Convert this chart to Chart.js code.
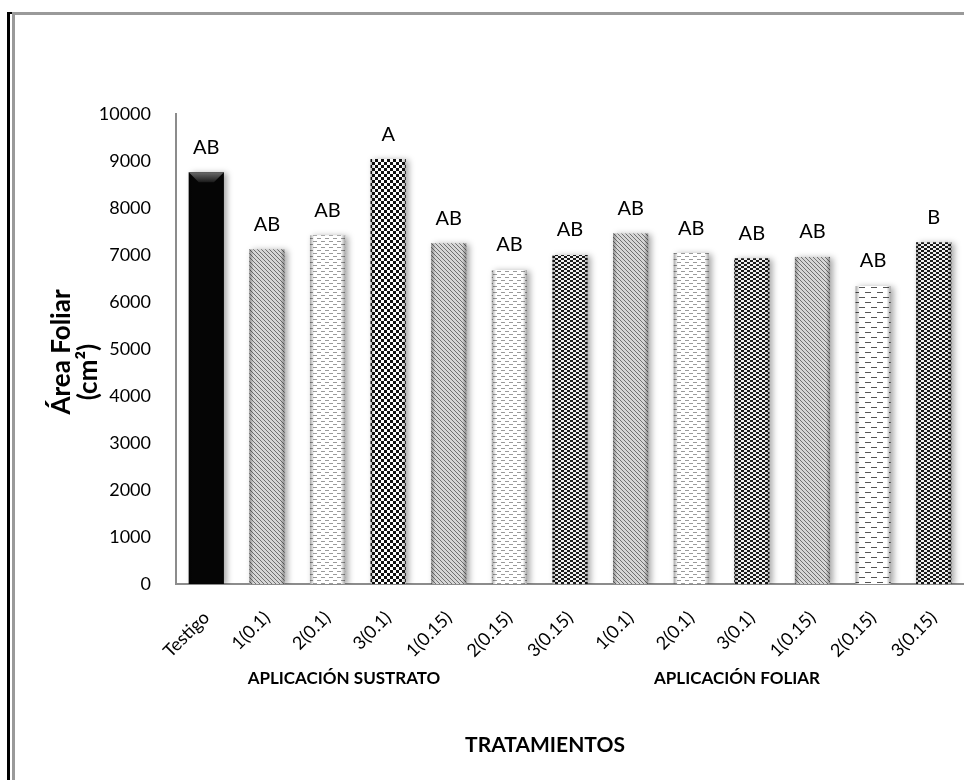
<!DOCTYPE html>
<html>
<head>
<meta charset="utf-8">
<script src="https://cdn.jsdelivr.net/npm/chart.js@4.4.0/dist/chart.umd.min.js"></script>
<style>
  html, body { margin: 0; padding: 0; background: #fff; }
  #wrap { width: 964px; height: 780px; }
</style>
</head>
<body>
<div id="wrap"><canvas id="areaChart"></canvas></div>
<script>
// Data
const categories = ['Testigo', '1(0.1)', '2(0.1)', '3(0.1)', '1(0.15)', '2(0.15)', '3(0.15)',
                    '1(0.1)', '2(0.1)', '3(0.1)', '1(0.15)', '2(0.15)', '3(0.15)'];
const areaFoliar = [8760, 7120, 7420, 9040, 7250, 6680, 7000, 7460, 7040, 6930, 6960, 6340, 7270];
const letters = ['AB', 'AB', 'AB', 'A', 'AB', 'AB', 'AB', 'AB', 'AB', 'AB', 'AB', 'AB', 'B'];
const groupLabels = ['APLICACIÓN SUSTRATO', 'APLICACIÓN FOLIAR'];
const yMax = 10000;
const yStep = 1000;

// fill style for each bar
const barStyles = ['solid', 'diag', 'dash', 'check', 'diag', 'dash', 'checkDense',
                   'diag', 'dash', 'checkDense', 'diag', 'dashBig', 'checkDense'];

const FONT = 'Lato, "Liberation Sans", sans-serif';

// Build the small tile patterns
function makePattern(kind) {
    const c = document.createElement('canvas');
    const g = c.getContext('2d');
    if (kind === 'diag') {
        c.width = 4; c.height = 4;
        g.fillStyle = '#d6d6d6'; g.fillRect(0, 0, 4, 4);
        g.fillStyle = '#707070';
        for (let i = 0; i < 4; i++) g.fillRect(i, i, 1, 1);
    } else if (kind === 'dash') {
        c.width = 8; c.height = 6;
        g.fillStyle = '#ffffff'; g.fillRect(0, 0, 8, 6);
        g.fillStyle = '#9a9a9a';
        g.fillRect(1, 1, 4, 1);
        g.fillRect(5, 4, 3, 1);
        g.fillRect(0, 4, 1, 1);
    } else if (kind === 'dashBig') {
        c.width = 12; c.height = 10;
        g.fillStyle = '#ffffff'; g.fillRect(0, 0, 12, 10);
        g.fillStyle = '#555555';
        g.fillRect(1, 2, 6, 1);
        g.fillRect(7, 7, 5, 1);
        g.fillRect(0, 7, 1, 1);
    } else if (kind === 'check') {
        c.width = 6; c.height = 6;
        g.fillStyle = '#ffffff'; g.fillRect(0, 0, 6, 6);
        g.fillStyle = '#111111';
        g.fillRect(0, 0, 3, 3);
        g.fillRect(3, 3, 3, 3);
    } else if (kind === 'checkDense') {
        c.width = 6; c.height = 4;
        g.fillStyle = '#eeeeee'; g.fillRect(0, 0, 6, 4);
        g.fillStyle = '#1a1a1a';
        g.fillRect(0, 0, 3, 2);
        g.fillRect(3, 2, 3, 2);
    }
    return document.createElement('canvas').getContext('2d').createPattern(c, 'repeat');
}

const barFills = barStyles.map(s => s === 'solid' ? '#050505' : makePattern(s));

// Frame, shadows, bevels, letters and extra titles
const decorPlugin = {
    id: 'decor',
    beforeDraw(chart) {
        const ctx = chart.ctx;
        ctx.save();
        ctx.fillStyle = '#ffffff';
        ctx.fillRect(0, 0, chart.width, chart.height);
        // outer frame
        ctx.fillStyle = '#000000';
        ctx.fillRect(7, 12, 3, chart.height - 12);
        ctx.fillRect(7, 12, 6, 2);
        ctx.fillStyle = '#9a9a9a';
        ctx.fillRect(12, 12, 3, chart.height - 12);
        ctx.fillRect(12, 12, chart.width - 12, 3);
        ctx.restore();
    },
    beforeDatasetsDraw(chart) {
        const ctx = chart.ctx;
        ctx.save();
        ctx.shadowColor = 'rgba(0,0,0,0.35)';
        ctx.shadowBlur = 6;
        ctx.shadowOffsetX = 3;
        ctx.shadowOffsetY = 1;
    },
    afterDatasetsDraw(chart) {
        const ctx = chart.ctx;
        ctx.restore();
        const meta = chart.getDatasetMeta(0);
        ctx.save();
        meta.data.forEach((bar, i) => {
            const w = bar.width;
            const left = bar.x - w / 2;
            const right = bar.x + w / 2;
            const top = bar.y;
            const bottom = bar.base;
            // side shading
            const grad = ctx.createLinearGradient(left, 0, right, 0);
            grad.addColorStop(0, 'rgba(0,0,0,0.35)');
            grad.addColorStop(0.12, 'rgba(0,0,0,0)');
            grad.addColorStop(0.88, 'rgba(0,0,0,0)');
            grad.addColorStop(1, 'rgba(0,0,0,0.35)');
            ctx.fillStyle = grad;
            ctx.fillRect(left, top, w, bottom - top);
            if (i === 0) {
                // bevel on the black bar
                ctx.beginPath();
                ctx.moveTo(left, top);
                ctx.lineTo(right, top);
                ctx.lineTo(right - 10, top + 10);
                ctx.lineTo(left + 10, top + 10);
                ctx.closePath();
                const bg = ctx.createLinearGradient(0, top, 0, top + 10);
                bg.addColorStop(0, '#6a6a6a');
                bg.addColorStop(1, '#1a1a1a');
                ctx.fillStyle = bg;
                ctx.fill();
            }
            // letters
            ctx.fillStyle = '#000000';
            ctx.font = '20px ' + FONT;
            ctx.textAlign = 'center';
            ctx.textBaseline = 'middle';
            ctx.fillText(letters[i], bar.x, top - 25);
        });
        ctx.restore();
    },
    afterDraw(chart) {
        const ctx = chart.ctx;
        ctx.save();
        ctx.fillStyle = '#000000';
        ctx.textAlign = 'center';
        ctx.textBaseline = 'middle';
        ctx.font = 'bold 17px ' + FONT;
        ctx.fillText(groupLabels[0], 344, 679);
        ctx.fillText(groupLabels[1], 737, 679);
        ctx.font = 'bold 21px ' + FONT;
        ctx.fillText('TRATAMIENTOS', 545, 745);
        // y axis title, wrapped on two lines like the original
        ctx.font = 'bold 26px ' + FONT;
        ctx.save();
        ctx.translate(62, 352);
        ctx.rotate(-Math.PI / 2);
        ctx.fillText('Área Foliar', 0, 0);
        ctx.restore();
        ctx.save();
        ctx.translate(89, 372);
        ctx.rotate(-Math.PI / 2);
        ctx.fillText('(cm²)', 0, 0);
        ctx.restore();
        ctx.restore();
    }
};

function initializeChart() {
    const ctx = document.getElementById('areaChart').getContext('2d');
    new Chart(ctx, {
        type: 'bar',
        data: {
            labels: categories,
            datasets: [{
                data: areaFoliar,
                backgroundColor: barFills,
                borderWidth: 0,
                categoryPercentage: 1,
                barPercentage: 0.58
            }]
        },
        options: {
            responsive: true,
            maintainAspectRatio: false,
            animation: false,
            devicePixelRatio: 1,
            layout: { padding: { top: 114, left: 0, right: 0, bottom: 0 } },
            plugins: {
                legend: { display: false },
                tooltip: { enabled: false }
            },
            scales: {
                x: {
                    grid: { display: false, drawTicks: false },
                    border: { display: true, color: '#8c8c8c', width: 2 },
                    ticks: {
                        color: '#000000',
                        font: { family: FONT, size: 18 },
                        minRotation: 45,
                        maxRotation: 45,
                        padding: 23,
                        autoSkip: false
                    },
                    afterFit(scale) {
                        scale.height = 196;
                        scale.paddingLeft = 0;
                        scale.paddingRight = 0;
                    }
                },
                y: {
                    min: 0,
                    max: yMax,
                    grid: { display: false, drawTicks: false },
                    border: { display: true, color: '#8c8c8c', width: 2 },
                    ticks: {
                        stepSize: yStep,
                        color: '#000000',
                        font: { family: FONT, size: 18 },
                        padding: 25,
                        callback: v => String(v)
                    },
                    afterFit(scale) { scale.width = 176; }
                }
            }
        },
        plugins: [decorPlugin]
    });
}

document.addEventListener('DOMContentLoaded', initializeChart);
</script>
</body>
</html>
